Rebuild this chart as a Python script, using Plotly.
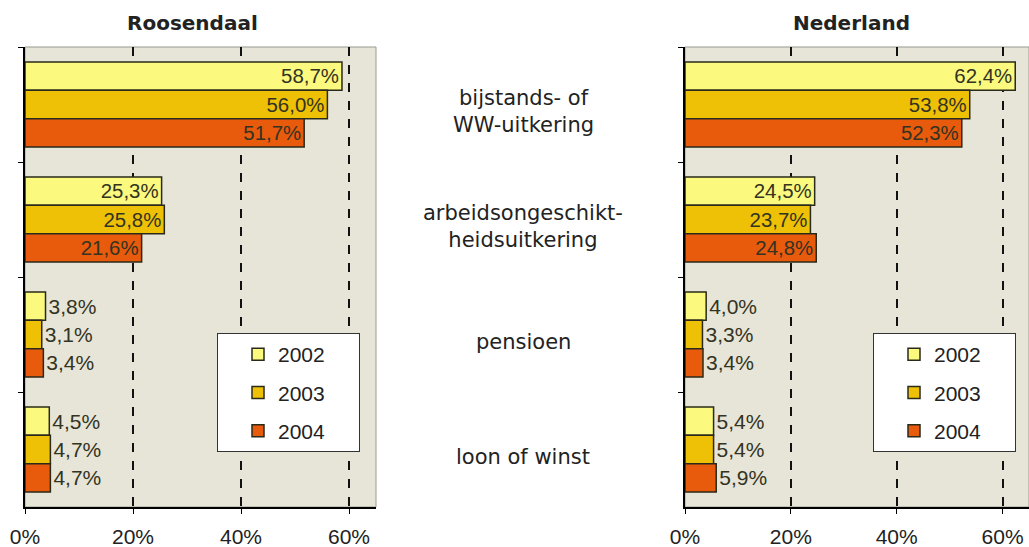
import plotly.graph_objects as go

CATEGORIES = ["bijstands- of<br>WW-uitkering", "arbeidsongeschikt-<br>heidsuitkering",
              "pensioen", "loon of winst"]
YEARS = ["2002", "2003", "2004"]

ROOSENDAAL = {
    "2002": [58.7, 25.3, 3.8, 4.5],
    "2003": [56.0, 25.8, 3.1, 4.7],
    "2004": [51.7, 21.6, 3.4, 4.7],
}
NEDERLAND = {
    "2002": [62.4, 24.5, 4.0, 5.4],
    "2003": [53.8, 23.7, 3.3, 5.4],
    "2004": [52.3, 24.8, 3.4, 5.9],
}
X_TICKS = [0, 20, 40, 60]
X_TICKTEXT = ["0%", "20%", "40%", "60%"]

COLORS = {"2002": "#FBF97E", "2003": "#EEC106", "2004": "#E85A0C"}
W, H = 1029, 547
BG = "#E7E5D7"
ARIAL = "Liberation Sans, Arial, sans-serif"


def px_x(p):
    return p / W


def px_y(p):
    return 1 - p / H


fig = go.Figure()
for panel, (data, xa, ya, leg) in enumerate(
    [(ROOSENDAAL, "x", "y", "legend"), (NEDERLAND, "x2", "y2", "legend2")]
):
    for yr in YEARS:
        vals = data[yr]
        fig.add_trace(go.Bar(
            y=CATEGORIES, x=vals, orientation="h",
            # trailing spaces widen the legend box like the original
            name=yr + "&nbsp;" * 5,
            xaxis=xa, yaxis=ya, legend=leg,
            legendgroup=f"{panel}-{yr}",
            marker=dict(color=COLORS[yr], line=dict(color="#2a2a1a", width=1.5)),
            text=[f"{v:.1f}%".replace(".", ",") for v in vals],
            textposition="auto", insidetextanchor="end",
            textfont=dict(family=ARIAL, size=21, color="#333322"),
            cliponaxis=False,
            hoverinfo="skip",
        ))

xcommon = dict(
    range=[0, 65], tickvals=X_TICKS, ticktext=X_TICKTEXT,
    showline=True, linecolor="black", linewidth=1.5,
    ticks="outside", ticklen=5, tickcolor="black", ticklabelstandoff=5,
    tickfont=dict(family=ARIAL, size=21, color="#222"),
    showgrid=True, gridcolor="#111", gridwidth=1.5, griddash="dash",
    zeroline=False, fixedrange=True, automargin=False,
)
ycommon = dict(
    autorange="reversed", showticklabels=False, tickson="boundaries",
    ticks="outside", ticklen=5, tickcolor="black",
    showline=True, linecolor="black", linewidth=1.5,
    showgrid=False, zeroline=False, fixedrange=True, automargin=False,
)

legcommon = dict(
    bgcolor="white", bordercolor="#333", borderwidth=1,
    font=dict(family=ARIAL, size=21, color="#222"),
    tracegroupgap=8, yanchor="top", xanchor="left",
    indentation=20,
)

fig.update_layout(
    width=W, height=H, margin=dict(l=0, r=0, t=0, b=0, autoexpand=False),
    paper_bgcolor="white", plot_bgcolor=BG,
    barmode="group", bargap=0.26, bargroupgap=0,
    showlegend=True,
    xaxis=dict(domain=[px_x(25), px_x(376)], anchor="y", **xcommon),
    yaxis=dict(domain=[px_y(507), px_y(47)], anchor="x", **ycommon),
    xaxis2=dict(domain=[px_x(685), 1.0], anchor="y2", **xcommon),
    yaxis2=dict(domain=[px_y(507), px_y(47)], anchor="x2", **ycommon),
    legend=dict(x=px_x(217), y=px_y(333), **legcommon),
    legend2=dict(x=px_x(873), y=px_y(333), **legcommon),
)

# light frame on the top/right of each plot area
for xr, yr in [("x domain", "y domain"), ("x2 domain", "y2 domain")]:
    fig.add_shape(type="rect", xref=xr, yref=yr, x0=0, x1=1, y0=0, y1=1,
                  line=dict(color="#9a9a90", width=1), layer="below")

# panel titles
for txt, xc in [("Roosendaal", 192), ("Nederland", 851)]:
    fig.add_annotation(text=f"<b>{txt}</b>", x=px_x(xc), y=px_y(23),
                       xref="paper", yref="paper", xanchor="center",
                       yanchor="middle", showarrow=False,
                       font=dict(family="DejaVu Sans", size=20, color="#222"))

# category labels between the two panels
for cat in CATEGORIES:
    fig.add_annotation(text=cat, x=px_x(523), y=cat, xref="paper", yref="y",
                       xanchor="center", yshift=-7, showarrow=False,
                       align="center",
                       font=dict(family="DejaVu Sans", size=21, color="#222"))

# page has a default 8px body margin; drop it so the figure fills the window
fig.write_html("out.html", config={"displayModeBar": False},
               post_script="document.body.style.margin='0';")
